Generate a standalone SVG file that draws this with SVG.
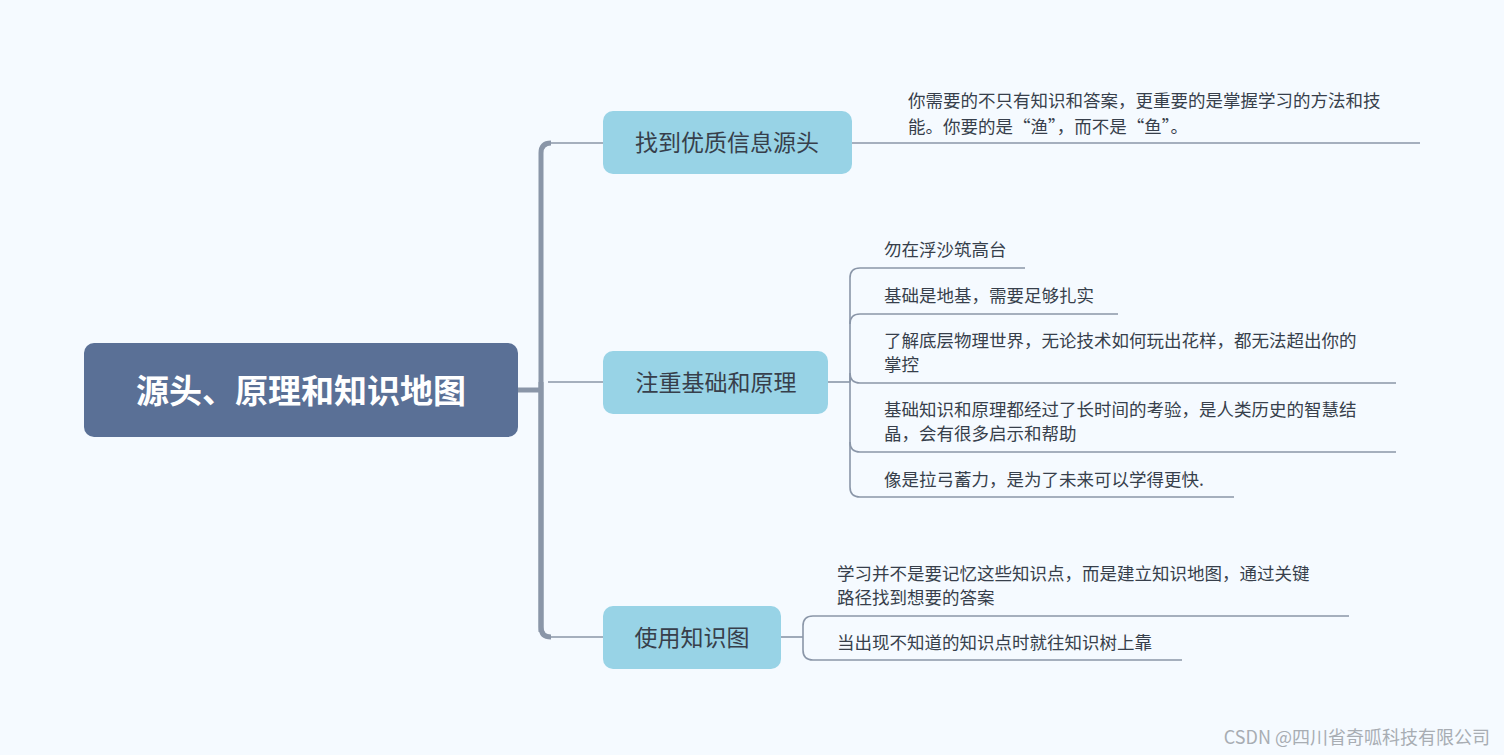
<svg xmlns="http://www.w3.org/2000/svg" width="1504" height="755" viewBox="0 0 1504 755">
<style>
text{font-family:"Noto Sans CJK SC","Liberation Sans",sans-serif;fill:#373f4b}
.b{fill:#98d3e6}
.bt{font-size:23px;text-anchor:middle}
.t{font-size:17.5px}
.c{fill:none;stroke:#8a96a8;stroke-width:1.6}
</style>
<rect width="1504" height="755" fill="#f5faff"/>
<g id="connectors">
<path d="M518,390 H541" fill="none" stroke="#8a96a8" stroke-width="5"/>
<path d="M541,632 V153 Q541,143 551,143" fill="none" stroke="#8a96a8" stroke-width="5"/>
<path d="M541,382 V627 Q541,637 551,637" fill="none" stroke="#8a96a8" stroke-width="5"/>
<path class="c" d="M548,143 H603 M548,382 H603 M548,637 H603"/>
<path class="c" d="M852,143 H1420"/>
<path class="c" d="M828,382 H850"/>
<path class="c" d="M850,382 V278 Q850,268 860,268 H1025"/>
<path class="c" d="M850,324 Q850,314 860,314 H1118"/>
<path class="c" d="M850,382 V373 Q850,383 860,383 H1396"/>
<path class="c" d="M850,382 V487 Q850,497 860,497 H1234"/>
<path class="c" d="M850,442 Q850,452 860,452 H1396"/>
<path class="c" d="M781,637 H803"/>
<path class="c" d="M803,637 V626 Q803,616 813,616 H1349"/>
<path class="c" d="M803,637 V650 Q803,660 813,660 H1182"/>
</g>
<g id="root">
<rect x="84" y="343" width="434" height="94" rx="10" fill="#5a7096"/>
<text x="301" y="403" font-size="33" font-weight="bold" text-anchor="middle" style="fill:#fff">源头、原理和知识地图</text>
</g>
<g id="n1"><rect class="b" x="603" y="111" width="249" height="63" rx="10"/><text class="bt" x="727" y="151">找到优质信息源头</text></g>
<g id="n2"><rect class="b" x="603" y="351" width="225" height="63" rx="10"/><text class="bt" x="716" y="391">注重基础和原理</text></g>
<g id="n3"><rect class="b" x="603" y="606" width="178" height="63" rx="10"/><text class="bt" x="692" y="646">使用知识图</text></g>
<g id="n1a"><text class="t" x="908" y="107">你需要的不只有知识和答案，更重要的是掌握学习的方法和技</text><text class="t" x="908" y="133">能。你要的是“渔”，而不是“鱼”。</text></g>
<g id="n2a"><text class="t" x="884" y="256">勿在浮沙筑高台</text></g>
<g id="n2b"><text class="t" x="884" y="302">基础是地基，需要足够扎实</text></g>
<g id="n2c"><text class="t" x="884" y="347">了解底层物理世界，无论技术如何玩出花样，都无法超出你的</text><text class="t" x="884" y="371">掌控</text></g>
<g id="n2d"><text class="t" x="884" y="416">基础知识和原理都经过了长时间的考验，是人类历史的智慧结</text><text class="t" x="884" y="440">晶，会有很多启示和帮助</text></g>
<g id="n2e"><text class="t" x="884" y="486">像是拉弓蓄力，是为了未来可以学得更快.</text></g>
<g id="n3a"><text class="t" x="837" y="580">学习并不是要记忆这些知识点，而是建立知识地图，通过关键</text><text class="t" x="837" y="604">路径找到想要的答案</text></g>
<g id="n3b"><text class="t" x="837" y="649">当出现不知道的知识点时就往知识树上靠</text></g>
<text x="1490" y="744" font-size="18" text-anchor="end" style="fill:#a8adb3">CSDN @四川省奇呱科技有限公司</text>
</svg>
